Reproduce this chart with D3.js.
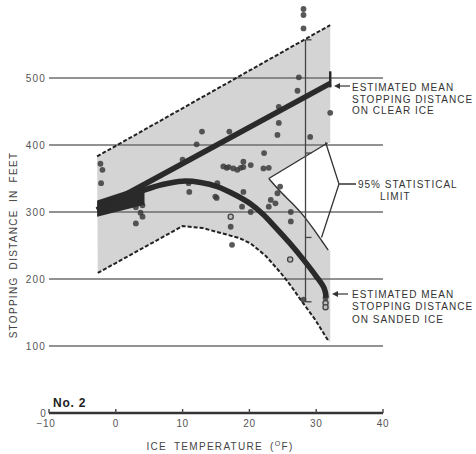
<!DOCTYPE html>
<html lang="en">
<head>
<meta charset="utf-8">
<title>Stopping Distance vs Ice Temperature</title>
<script src="https://cdn.jsdelivr.net/npm/d3@7"></script>
<style>
  body { margin: 0; background: #fff; }
  svg { display: block; font-family: "Liberation Sans", Arial, sans-serif; }
</style>
</head>
<body>
<script>
// ticks
const xTicks = [-10, 0, 10, 20, 30, 40];
const yTicks = [0, 100, 200, 300, 400, 500];

// [ice temperature F, stopping distance ft]
const clearMean = [[-2.8, 303], [32.1, 492]];
const clearUpper = [[-2.8, 383], [32.1, 579]];
const clearLower = [[22.9, 350], [31.7, 403]];
const sandMean = [[-2.8, 303], [0, 318], [3.7, 331], [7, 341], [10, 346], [12.7, 344],
  [15.2, 338], [18, 325], [20.2, 312], [22, 297], [24, 276], [26, 254], [28, 230],
  [30, 204], [31.2, 186], [31.5, 172]];
const sandUpper = [[22.9, 350], [24.5, 332], [26.4, 313], [27.8, 298], [29.5, 276],
  [30.9, 256], [31.8, 243]];
const sandLower = [[-2.7, 209], [10, 279], [13, 276], [16, 268], [18.5, 261], [20.2, 253],
  [22.5, 234], [24.7, 209], [26.2, 190], [27.6, 170], [29.8, 140], [31.8, 108]];
const startBlob = [[-2.8, 293], [-2.8, 317], [2, 333], [4.3, 337], [4.3, 311]];
const rangeBar = [[28.4, 166], [28.4, 557]];
const rangeMarks = [557, 388, 262, 166];

// measured stopping distances
const points = [[-2.3, 372], [-2.0, 363], [-2.2, 343], [12.9, 420], [17, 420], [12.1, 401],
  [10, 378], [10.9, 343], [11, 330], [15.2, 343], [15.1, 321], [3, 307], [3, 283], [4, 293],
  [3.7, 299], [4, 310], [16.1, 368], [16.6, 366], [16.9, 367], [17.6, 365], [18.2, 363],
  [18.7, 366], [19.1, 367], [20.2, 370], [19.1, 375], [22.1, 365], [22.9, 366], [22.2, 388],
  [24.2, 415], [24.4, 433], [24.4, 457], [32.1, 448], [29.1, 412], [14.9, 323], [19.1, 330],
  [18.9, 308], [23.2, 318], [22.9, 308], [24.2, 328], [17.2, 278], [26.2, 286], [20.2, 300],
  [23.9, 313], [24.6, 338], [26.2, 300], [17.4, 251], [31.4, 172], [28.1, 169],
  [28.1, 603], [28.1, 594], [28.1, 574], [27.4, 501], [27.2, 481]];
const openPoints = [[17.2, 293], [26.1, 229], [31.4, 164], [31.4, 158]];

const width = 476, height = 454;
const svg = d3.select("body").append("svg")
  .attr("width", width)
  .attr("height", height);

const x = d3.scaleLinear().domain([-10, 40]).range([49, 383]);
const y = d3.scaleLinear().domain([0, 500]).range([413, 78]);
const line = d3.line().x(d => x(d[0])).y(d => y(d[1]));
const smooth = d3.line().x(d => x(d[0])).y(d => y(d[1])).curve(d3.curveCatmullRom);

// shaded band
const edge = 32.1;
const shade = clearUpper
  .concat([[edge, 403]])
  .concat(clearLower.slice().reverse())
  .concat(sandUpper)
  .concat([[edge, 243], [edge, 106]])
  .concat(sandLower.slice().reverse());
svg.append("path")
  .attr("d", line(shade) + "Z")
  .attr("fill", "#d4d4d4");

// gridlines
svg.selectAll(".grid")
  .data(yTicks.filter(d => d > 0))
  .enter().append("line")
  .attr("class", "grid")
  .attr("x1", x(-10)).attr("x2", x(40))
  .attr("y1", d => y(d)).attr("y2", d => y(d))
  .attr("stroke", "#6e6e6e")
  .attr("stroke-width", 1.6);

svg.selectAll(".ylab")
  .data(yTicks)
  .enter().append("text")
  .attr("class", "ylab")
  .attr("x", d => d == 0 ? 47 : 46)
  .attr("y", d => y(d) + 3.5)
  .attr("text-anchor", "end")
  .attr("font-size", 10)
  .attr("letter-spacing", 1.2)
  .attr("fill", "#555")
  .text(d => d);

// x axis
svg.append("line")
  .attr("x1", x(-10)).attr("x2", x(40))
  .attr("y1", y(0)).attr("y2", y(0))
  .attr("stroke", "#333")
  .attr("stroke-width", 2.4);
svg.selectAll(".xtick")
  .data(xTicks)
  .enter().append("line")
  .attr("x1", d => x(d)).attr("x2", d => x(d))
  .attr("y1", y(0) - 4).attr("y2", y(0))
  .attr("stroke", "#444")
  .attr("stroke-width", 1.4);
svg.selectAll(".xlab")
  .data(xTicks)
  .enter().append("text")
  .attr("x", d => x(d) + (d < 0 ? -3 : 0))
  .attr("y", y(0) + 14)
  .attr("text-anchor", "middle")
  .attr("font-size", 10)
  .attr("letter-spacing", 0.6)
  .attr("fill", "#555")
  .text(d => d < 0 ? "\u2212" + Math.abs(d) : d);

// limits
svg.append("path").attr("d", line(clearUpper))
  .attr("fill", "none").attr("stroke", "#222").attr("stroke-width", 2)
  .attr("stroke-dasharray", "4,2");
svg.append("path").attr("d", line(sandLower))
  .attr("fill", "none").attr("stroke", "#222").attr("stroke-width", 2)
  .attr("stroke-dasharray", "4,2");
svg.append("path").attr("d", line(clearLower))
  .attr("fill", "none").attr("stroke", "#333").attr("stroke-width", 1.4);
svg.append("path").attr("d", smooth(sandUpper))
  .attr("fill", "none").attr("stroke", "#333").attr("stroke-width", 1.4);

// range bar
svg.append("path").attr("d", line(rangeBar))
  .attr("stroke", "#444").attr("stroke-width", 1.3);
svg.selectAll(".rmark")
  .data(rangeMarks)
  .enter().append("line")
  .attr("x1", x(28.4)).attr("x2", x(28.4) + 6)
  .attr("y1", d => y(d)).attr("y2", d => y(d))
  .attr("stroke", "#444").attr("stroke-width", 1.3);

// data points
svg.selectAll(".pt")
  .data(points)
  .enter().append("circle")
  .attr("cx", d => x(d[0]))
  .attr("cy", d => y(d[1]))
  .attr("r", 2.9)
  .attr("fill", "#3c3c3c")
  .attr("opacity", 0.85);
svg.selectAll(".opt")
  .data(openPoints)
  .enter().append("circle")
  .attr("cx", d => x(d[0]))
  .attr("cy", d => y(d[1]))
  .attr("r", 2.6)
  .attr("fill", "#bbb")
  .attr("stroke", "#444")
  .attr("stroke-width", 1.3);

// mean curves
svg.append("path").attr("d", line(startBlob) + "Z").attr("fill", "#2a2a2a");
svg.append("path").attr("d", line(clearMean))
  .attr("fill", "none").attr("stroke", "#2a2a2a").attr("stroke-width", 5.5);
svg.append("path").attr("d", smooth(sandMean))
  .attr("fill", "none").attr("stroke", "#2a2a2a").attr("stroke-width", 5.5);
svg.append("line")
  .attr("x1", x(32.1)).attr("x2", x(32.1))
  .attr("y1", y(510)).attr("y2", y(486))
  .attr("stroke", "#2a2a2a").attr("stroke-width", 2.5);

// annotations
function arrow(x1, x2, yy) {
  svg.append("line").attr("x1", x1 + 4).attr("x2", x2).attr("y1", yy).attr("y2", yy)
    .attr("stroke", "#333").attr("stroke-width", 1.2);
  svg.append("path")
    .attr("d", `M${x1},${yy}L${x1 + 6},${yy - 3}L${x1 + 6},${yy + 3}Z`)
    .attr("fill", "#333");
}
function label(lines, x0, ys) {
  lines.forEach(function(t, i) {
    svg.append("text")
      .attr("x", x0).attr("y", ys[i])
      .attr("font-size", 10)
      .attr("letter-spacing", 1)
      .attr("fill", "#333")
      .text(t);
  });
}
arrow(334, 350, 86);
label(["ESTIMATED MEAN", "STOPPING DISTANCE", "ON CLEAR ICE"], 352, [91, 102.5, 114]);
arrow(332, 348, 294);
label(["ESTIMATED MEAN", "STOPPING DISTANCE", "ON SANDED ICE"], 352, [297.5, 310, 322.5]);

// 95% bracket
svg.append("path")
  .attr("d", `M${x(31.4)},${y(404)}L339,184L${x(30.8)},${y(262)}M339,184L356,184`)
  .attr("fill", "none").attr("stroke", "#333").attr("stroke-width", 1.3);
label(["95% STATISTICAL"], 358, [187.5]);
label(["LIMIT"], 380, [200]);

// titles
svg.append("text")
  .attr("transform", "translate(17,245) rotate(-90)")
  .attr("text-anchor", "middle")
  .attr("font-size", 10)
  .attr("letter-spacing", 1.3)
  .attr("word-spacing", 3)
  .attr("fill", "#444")
  .text("STOPPING DISTANCE IN FEET");

const xt = svg.append("text")
  .attr("x", 220).attr("y", 450)
  .attr("text-anchor", "middle")
  .attr("font-size", 10)
  .attr("letter-spacing", 1.3)
  .attr("word-spacing", 3)
  .attr("fill", "#444");
xt.append("tspan").text("ICE TEMPERATURE (");
xt.append("tspan").attr("dy", -4).attr("font-size", 7).text("O");
xt.append("tspan").attr("dy", 4).text("F)");

svg.append("text")
  .attr("x", 53).attr("y", 407)
  .attr("font-size", 12)
  .attr("font-weight", "bold")
  .attr("letter-spacing", 0.8)
  .attr("fill", "#222")
  .text("No. 2");
</script>
</body>
</html>
